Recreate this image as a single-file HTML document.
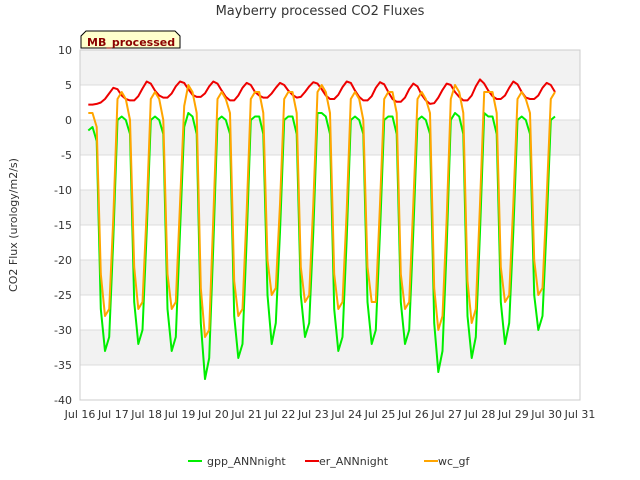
<!DOCTYPE html>
<html><head><meta charset="utf-8"><style>
html,body{margin:0;padding:0;background:#fff;}
svg{display:block;font-family:"DejaVu Sans","Liberation Sans",sans-serif;}
</style></head><body>
<svg id="chart" width="640" height="480" viewBox="0 0 640 480">
<text x="320" y="15" text-anchor="middle" font-size="13" fill="#333">Mayberry processed CO2 Fluxes</text>
<text transform="translate(17,225) rotate(-90)" text-anchor="middle" font-size="11" fill="#333">CO2 Flux (urology/m2/s)</text>
<g id="bands"></g><g id="grid"></g><g id="series"></g><g id="axes"></g>
<g>
<path d="M81,48 L81,36 L86,31 L175,31 L180,36 L180,48 Z" fill="#ffffcc" stroke="#000" stroke-width="1"/>
<text x="87" y="46" font-size="11" font-weight="bold" fill="#8b0000">MB_processed</text>
</g>
<g>
<g><line x1="188" y1="461" x2="202" y2="461" stroke="#00ee00" stroke-width="2"/><text x="207" y="465" font-size="11" fill="#333">gpp_ANNnight</text></g>
<g><line x1="305" y1="461" x2="319" y2="461" stroke="#ee0000" stroke-width="2"/><text x="319" y="465" font-size="11" fill="#333">er_ANNnight</text></g>
<g><line x1="424" y1="461" x2="438" y2="461" stroke="#ffa500" stroke-width="2"/><text x="438" y="465" font-size="11" fill="#333">wc_gf</text></g>
</g>
</svg>
<script>
const yTicks=[10,5,0,-5,-10,-15,-20,-25,-30,-35,-40];
const xTickLabels=["Jul 16","Jul 17","Jul 18","Jul 19","Jul 20","Jul 21","Jul 22","Jul 23","Jul 24","Jul 25","Jul 26","Jul 27","Jul 28","Jul 29","Jul 30","Jul 31"];
const tStart=0.25, tStep=0.125;
const wcValues=[
1,1,-1,-22,-28,-27,-14,3,
4,3,0,-21,-27,-26,-13,3,
4,3,0,-22,-27,-26,-12,2,
5,4,1,-24,-31,-30,-14,3,
4,3,1,-23,-28,-27,-13,3,
4,4,1,-20,-25,-24,-12,3,
4,4,1,-21,-26,-25,-12,4,
5,4,1,-22,-27,-26,-13,3,
4,3,0,-21,-26,-26,-12,3,
4,4,1,-22,-27,-26,-12,3,
4,3,1,-24,-30,-28,-14,3,
5,4,1,-23,-29,-27,-12,4,
4,4,1,-21,-26,-25,-12,3,
4,3,1,-20,-25,-24,-11,3,
4];
const gppValues=[
-1.5,-1,-3,-27,-33,-31,-17,0,
0.5,0,-2,-26,-32,-30,-16,0,
0.5,0,-2,-27,-33,-31,-16,-1,
1,0.5,-2,-29,-37,-34,-18,0,
0.5,0,-2,-28,-34,-32,-17,0,
0.5,0.5,-2,-25,-32,-29,-16,0,
0.5,0.5,-2,-25,-31,-29,-16,1,
1,0.5,-2,-27,-33,-31,-17,0,
0.5,0,-2,-26,-32,-30,-16,0,
0.5,0.5,-2,-26,-32,-30,-16,0,
0.5,0,-2,-29,-36,-33,-18,0,
1,0.5,-2,-28,-34,-31,-16,1,
0.5,0.5,-2,-26,-32,-29,-16,0,
0.5,0,-2,-25,-30,-28,-15,0,
0.5];
const erValues=[
2.2,2.2,2.3,2.5,3,3.8,4.6,4.4,
3.5,3,2.8,2.8,3.4,4.5,5.5,5.2,
4.2,3.5,3.2,3.2,3.8,4.8,5.5,5.3,
4.4,3.6,3.3,3.3,3.8,4.8,5.5,5.2,
4.2,3.3,2.8,2.8,3.5,4.6,5.3,5,
4,3.5,3.2,3.2,3.8,4.6,5.3,5,
4.2,3.6,3.2,3.3,4,4.8,5.4,5.2,
4.4,3.5,3,3,3.6,4.7,5.5,5.3,
4.2,3.3,2.8,2.8,3.4,4.6,5.4,5.1,
4,3,2.6,2.6,3.2,4.4,5.2,4.8,
3.6,2.8,2.3,2.4,3.2,4.3,5.2,5,
4,3.3,2.8,2.8,3.5,4.8,5.8,5.2,
4.2,3.4,3,3,3.5,4.6,5.5,5.1,
4,3.2,3,3,3.5,4.6,5.3,5,
4];
const NS="http://www.w3.org/2000/svg";
const L=80,R=580,T=50,B=400;
const xScale=d=>L+(d/15)*(R-L);
const yScale=v=>T+(10-v)/50*(B-T);
function mk(tag,attrs,parent){const e=document.createElementNS(NS,tag);for(const k in attrs)e.setAttribute(k,attrs[k]);parent.appendChild(e);return e;}
const bands=document.getElementById('bands'),grid=document.getElementById('grid'),series=document.getElementById('series'),axes=document.getElementById('axes');
mk('rect',{x:L,y:T,width:R-L,height:B-T,fill:'#fff'},bands);
for(let i=0;i<yTicks.length-1;i++){
  if(i%2===0){const r=mk('rect',{x:L,y:yScale(yTicks[i]),width:R-L,height:yScale(yTicks[i+1])-yScale(yTicks[i]),fill:'#f2f2f2'},bands);
  
  }
}
yTicks.forEach(v=>{
  const y=yScale(v);
  const g=mk('line',{x1:L,x2:R,y1:y,y2:y,stroke:'#dcdcdc','stroke-width':1},grid);
  
  
  const t=mk('text',{x:L-8,y:y+4,'text-anchor':'end','font-size':11,fill:'#333'},axes);
  t.textContent=v;
  
  
});
xTickLabels.forEach((s,i)=>{
  const t=mk('text',{x:xScale(i),y:418,'text-anchor':'middle','font-size':11,fill:'#333'},axes);
  t.textContent=s;
  
  
});
const frame=mk('rect',{x:L,y:T,width:R-L,height:B-T,fill:'none',stroke:'#cccccc','stroke-width':1},axes);


function drawLine(vals,color,name){
  const d=vals.map((v,i)=>(i?'L':'M')+xScale(tStart+i*tStep).toFixed(1)+','+yScale(v).toFixed(1)).join(' ');
  const p=mk('path',{d:d,fill:'none',stroke:color,'stroke-width':2,'stroke-linejoin':'round'},series);
  
  
}
drawLine(gppValues,'#00ee00','gpp-line');
drawLine(erValues,'#ee0000','er-line');
drawLine(wcValues,'#ffa500','wc-line');
</script>
</body></html>
